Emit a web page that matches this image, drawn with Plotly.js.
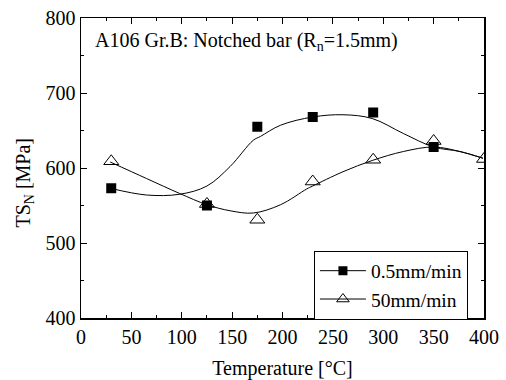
<!DOCTYPE html>
<html>
<head>
<meta charset="utf-8">
<script src="https://cdn.plot.ly/plotly-3.0.1.min.js"></script>
<style>html,body{margin:0;padding:0;background:#fff;}#chart{width:506px;height:380px;}</style>
</head>
<body>
<div id="chart"></div>
<script>
// Measured points
var tempsSlow = [30, 125, 175, 230, 290, 350];
var tsSlow = [573, 550, 655, 668, 674, 628];
var tempsFast = [30, 125, 175, 230, 290, 350, 400];
var tsFast = [609, 552, 531, 582, 611, 636, 612];

// Fitted curves
var curveSlowX = [29, 65, 98, 125, 148, 171, 178, 198, 230, 260, 289, 320, 350, 376, 399];
var curveSlowY = [573, 564, 565, 576, 602, 637, 642, 657, 668, 671, 666, 646, 628, 622, 613];
var curveFastX = [29, 65, 98, 125, 148, 171, 198, 224, 230, 260, 289, 320, 350, 376, 399];
var curveFastY = [608, 586, 566, 551, 543, 540, 551, 572, 576, 595, 610, 622, 628, 622, 613];

var seriesNames = ['0.5mm/min', '50mm/min'];
var xTicks = [0, 50, 100, 150, 200, 250, 300, 350, 400];
var yTicks = [400, 500, 600, 700, 800];

var font = 'Liberation Serif, Times New Roman, serif';
var lineStyle = {color: '#000', width: 1};

var traces = [
  {x: curveSlowX, y: curveSlowY, mode: 'lines', line: {color: '#000', width: 1, shape: 'spline', smoothing: 1}, showlegend: false, hoverinfo: 'skip'},
  {x: curveFastX, y: curveFastY, mode: 'lines', line: {color: '#000', width: 1, shape: 'spline', smoothing: 1}, showlegend: false, hoverinfo: 'skip'},
  {x: tempsSlow, y: tsSlow, mode: 'markers', marker: {symbol: 'square', size: 10, color: '#000'}, showlegend: false},
  {x: tempsFast, y: tsFast, mode: 'markers', marker: {symbol: 'triangle-up-open', size: 13, color: '#000', line: {width: 1, color: '#000'}}, showlegend: false},
  {x: [null], y: [null], mode: 'lines+markers', name: seriesNames[0], line: lineStyle, marker: {symbol: 'square', size: 9, color: '#000'}},
  {x: [null], y: [null], mode: 'lines+markers', name: seriesNames[1], line: lineStyle, marker: {symbol: 'triangle-up-open', size: 11, color: '#000', line: {width: 1, color: '#000'}}}
];

var axisCommon = {
  showline: true, linecolor: '#000', linewidth: 1.5, mirror: 'ticks',
  ticks: 'inside', ticklen: 6, tickwidth: 1, tickcolor: '#000',
  showgrid: false, zeroline: false,
  tickfont: {family: font, size: 20, color: '#000'}
};

var layout = {
  width: 506, height: 380,
  margin: {l: 81, r: 22, t: 18, b: 62},
  paper_bgcolor: '#fff', plot_bgcolor: '#fff',
  font: {family: font, color: '#000'},
  xaxis: Object.assign({}, axisCommon, {
    range: [0, 400], tickvals: xTicks, ticktext: xTicks.map(String),
    minor: {ticks: 'inside', ticklen: 3, dtick: 25, tick0: 0, tickcolor: '#000', tickwidth: 1},
    title: {text: 'Temperature [°C]', font: {family: font, size: 20, color: '#000'}, standoff: 16}
  }),
  yaxis: Object.assign({}, axisCommon, {
    range: [400, 800], tickvals: yTicks, ticktext: yTicks.map(String),
    minor: {ticks: 'inside', ticklen: 3, dtick: 50, tick0: 400, tickcolor: '#000', tickwidth: 1}
  }),
  legend: {
    x: 0.578, y: 0.225, xanchor: 'left', yanchor: 'top',
    bordercolor: '#000', borderwidth: 1, bgcolor: '#fff',
    font: {family: font, size: 19.5, color: '#000'},
    tracegroupgap: 0, itemwidth: 46
  },
  annotations: [{
    xref: 'paper', yref: 'paper', x: 0.03, y: 0.97, xanchor: 'left', yanchor: 'top',
    text: 'A106 Gr.B: Notched bar (R<sub>n</sub>=1.5mm)', showarrow: false,
    font: {family: font, size: 20, color: '#000'}
  }, {
    xref: 'paper', yref: 'paper', x: -0.141, y: 0.452, xanchor: 'center', yanchor: 'middle',
    text: 'TS<sub>N</sub> [MPa]', textangle: -90, showarrow: false,
    font: {family: font, size: 20, color: '#000'}
  }],
  showlegend: true
};

Plotly.newPlot('chart', traces, layout, {displayModeBar: false, staticPlot: true});
</script>
</body>
</html>
